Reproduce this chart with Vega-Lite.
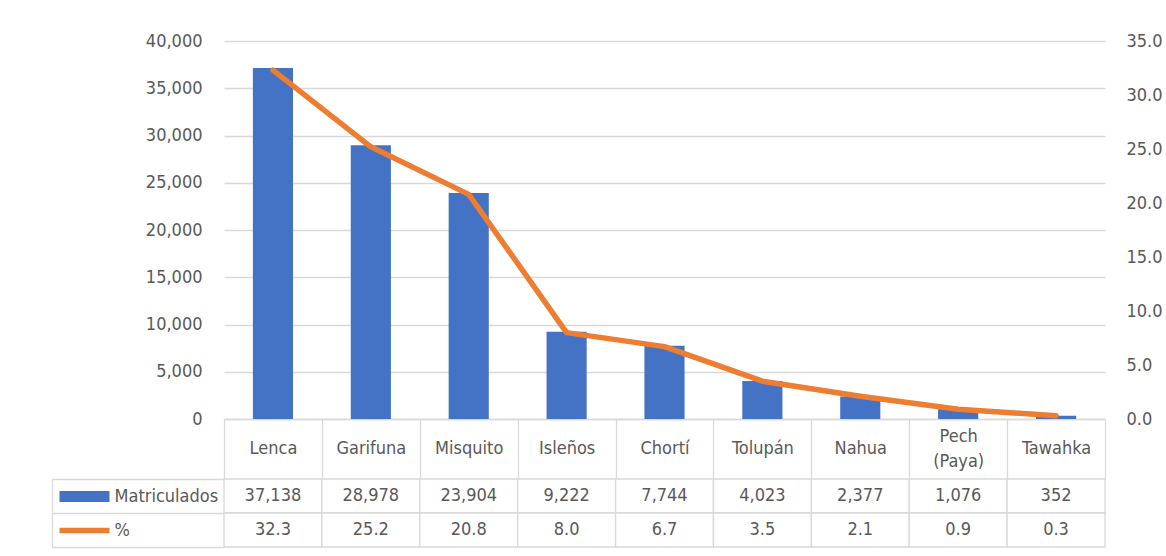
{
  "$schema": "https://vega.github.io/schema/vega-lite/v6.json",
  "padding": {"left": 51, "top": 32, "right": 4, "bottom": 4},
  "background": "white",
  "spacing": 60,
  "bounds": "flush",
  "config": {
    "view": {"stroke": null},
    "font": "DejaVu Sans Condensed, Liberation Sans, sans-serif",
    "axis": {"labelFont": "DejaVu Sans Condensed, Liberation Sans, sans-serif", "labelFontSize": 18, "labelColor": "#595959", "title": null},
    "text": {"font": "DejaVu Sans Condensed, Liberation Sans, sans-serif", "fontSize": 18, "color": "#595959"}
  },
  "data": {
    "values": [
      {"grupo": "Lenca", "Matriculados": 37138, "pct": 32.3},
      {"grupo": "Garifuna", "Matriculados": 28978, "pct": 25.2},
      {"grupo": "Misquito", "Matriculados": 23904, "pct": 20.8},
      {"grupo": "Isleños", "Matriculados": 9222, "pct": 8.0},
      {"grupo": "Chortí", "Matriculados": 7744, "pct": 6.7},
      {"grupo": "Tolupán", "Matriculados": 4023, "pct": 3.5},
      {"grupo": "Nahua", "Matriculados": 2377, "pct": 2.1},
      {"grupo": "Pech (Paya)", "Matriculados": 1076, "pct": 0.9},
      {"grupo": "Tawahka", "Matriculados": 352, "pct": 0.3}
    ]
  },
  "vconcat": [
    {
      "width": 881,
      "height": 378,
      "encoding": {
        "x": {
          "field": "grupo", "type": "nominal", "sort": null,
          "scale": {"paddingInner": 0, "paddingOuter": 0},
          "axis": {
            "orient": "bottom", "title": null,
            "domainColor": "#D9D9D9", "domainWidth": 1.3,
            "tickBand": "extent", "tickSize": 60, "tickColor": "#D9D9D9", "tickWidth": 1.3,
            "labelAngle": 0, "labelBaseline": "middle", "labelLineHeight": 25,
            "labelPadding": {"condition": {"test": "datum.value === 'Pech (Paya)'", "value": -43}, "value": -31},
            "labelExpr": "datum.value === 'Pech (Paya)' ? ['Pech', '(Paya)'] : datum.label",
            "labelOverlap": false, "labelBound": false, "labelFlush": false
          }
        }
      },
      "layer": [
        {
          "mark": {"type": "bar", "color": "#4472C4", "width": {"band": 0.41}},
          "encoding": {
            "y": {
              "field": "Matriculados", "type": "quantitative",
              "scale": {"domain": [0, 40000]},
              "axis": {
                "orient": "left", "title": null,
                "values": [0, 5000, 10000, 15000, 20000, 25000, 30000, 35000, 40000],
                "format": ",d", "domain": false, "ticks": false,
                "grid": true, "gridColor": "#D9D9D9", "gridWidth": 1.3,
                "labelPadding": 22
              }
            }
          }
        },
        {
          "mark": {"type": "line", "color": "#ED7D31", "strokeWidth": 5.5, "interpolate": "linear", "strokeCap": "round", "strokeJoin": "round"},
          "encoding": {
            "y": {
              "field": "pct", "type": "quantitative",
              "scale": {"domain": [0, 35]},
              "axis": {
                "orient": "right", "title": null,
                "values": [0, 5, 10, 15, 20, 25, 30, 35],
                "format": ".1f", "domain": false, "ticks": false, "grid": false,
                "labelPadding": 21
              }
            }
          }
        }
      ],
      "resolve": {"scale": {"y": "independent"}}
    },
    {
      "width": 881,
      "height": 68,
      "transform": [{"fold": ["Matriculados", "pct"], "as": ["fila", "valor"]}],
      "encoding": {
        "x": {
          "field": "grupo", "type": "nominal", "sort": null,
          "scale": {"paddingInner": 0, "paddingOuter": 0},
          "axis": null
        }
      },
      "layer": [
        {
          "mark": {"type": "rect", "fill": "white", "stroke": "#D9D9D9", "strokeWidth": 1.3},
          "encoding": {
            "y": {
              "field": "fila", "type": "nominal",
              "scale": {"domain": ["Matriculados", "pct"], "paddingInner": 0, "paddingOuter": 0},
              "axis": {
                "orient": "left", "title": null, "domain": false, "grid": false,
                "ticks": true, "tickBand": "extent", "tickSize": 172, "tickColor": "#D9D9D9", "tickWidth": 1.3,
                "labelAlign": "left", "labelBaseline": "middle", "labelPadding": -62,
                "labelExpr": "datum.value === 'pct' ? '%' : datum.value"
              }
            }
          }
        },
        {
          "transform": [{"filter": "datum.fila === 'Matriculados'"}],
          "mark": {"type": "text"},
          "encoding": {
            "y": {
              "field": "fila", "type": "nominal",
              "scale": {"domain": ["Matriculados", "pct"], "paddingInner": 0, "paddingOuter": 0},
              "axis": {
                "orient": "left", "title": null, "offset": 115, "domain": false, "grid": false, "labels": false,
                "ticks": true, "tickSize": 50, "tickCap": "butt",
                "tickColor": {"condition": {"test": "datum.value === 'Matriculados'", "value": "#4472C4"}, "value": "#ED7D31"},
                "tickWidth": {"condition": {"test": "datum.value === 'Matriculados'", "value": 11}, "value": 5.5}
              }
            },
            "text": {"field": "valor", "type": "quantitative", "format": ","}
          }
        },
        {
          "transform": [{"filter": "datum.fila === 'pct'"}],
          "mark": {"type": "text"},
          "encoding": {
            "y": {
              "field": "fila", "type": "nominal",
              "scale": {"domain": ["Matriculados", "pct"], "paddingInner": 0, "paddingOuter": 0},
              "axis": {
                "orient": "left", "title": null, "offset": 172, "domain": true, "domainColor": "#D9D9D9", "domainWidth": 1.3,
                "grid": false, "labels": false, "ticks": false
              }
            },
            "text": {"field": "valor", "type": "quantitative", "format": ".1f"}
          }
        }
      ],
      "resolve": {"scale": {"y": "independent"}}
    }
  ]
}
